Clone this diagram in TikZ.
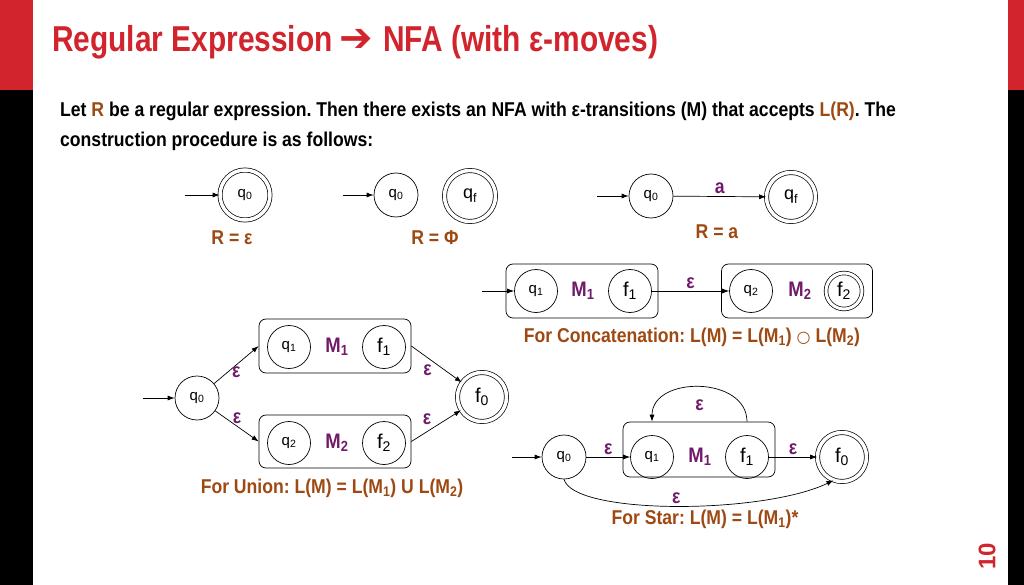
\documentclass[tikz,border=0pt]{standalone}
\usepackage{fontspec}
\setmainfont[FakeStretch=0.83]{Liberation Sans}
\newfontfamily\bodyfont[FakeStretch=0.88]{Liberation Sans}
\newfontfamily\plainfont{Liberation Sans}
\newfontfamily\symfont{DejaVu Sans}
\usetikzlibrary{arrows.meta, positioning}
\frenchspacing

\definecolor{slidered}{RGB}{209,36,44}
\definecolor{capbrown}{RGB}{158,72,18}
\definecolor{labpurple}{RGB}{112,26,108}

\begin{document}
\begin{tikzpicture}[
    x=1pt, y=-1pt,
    >={Latex[length=7pt, width=5pt]},
    state/.style={draw, circle, minimum size=44pt, inner sep=0pt, line width=0.7pt,
                  font=\plainfont\fontsize{15}{15}\selectfont},
    accept/.style={state, double, double distance=3.5pt, minimum size=49pt},
    machine/.style={draw, rounded corners=7pt, line width=0.7pt, minimum width=152pt, minimum height=54pt},
    mlabel/.style={font=\bodyfont\bfseries\fontsize{21}{21}\selectfont, text=labpurple, inner sep=0pt},
    elabel/.style={font=\bodyfont\bfseries\fontsize{20}{20}\selectfont, text=labpurple, inner sep=2pt},
    caption/.style={font=\bodyfont\bfseries\fontsize{20}{20}\selectfont, text=capbrown},
    trans/.style={->, line width=0.7pt},
]
    \useasboundingbox (0,0) rectangle (1024,585);

    % Side bars
    \fill[slidered] (0,0) rectangle (33,90);
    \fill[black] (0,90) rectangle (33,585);
    \fill[slidered] (1008,0) rectangle (1024,90);
    \fill[black] (1008,90) rectangle (1024,585);

    % Heading and text
    \node[anchor=base west, inner sep=0pt, text=slidered, font=\bfseries\fontsize{36}{36}\selectfont] (title) at (52,52)
        {Regular Expression\hspace{7pt}{\symfont\bfseries\fontsize{40}{36}\selectfont ➔}\hspace{10pt}NFA (with ε-moves)};
    \node[anchor=base west, inner sep=0pt, font=\bodyfont\bfseries\fontsize{20}{20}\selectfont] (intro1) at (60,117)
        {Let \textcolor{capbrown}{R} be a regular expression. Then there exists an NFA with ε-transitions (M) that accepts \textcolor{capbrown}{L(R)}. The};
    \node[anchor=base west, inner sep=0pt, font=\bodyfont\bfseries\fontsize{20}{20}\selectfont] (intro2) at (60,147)
        {construction procedure is as follows:};
    \node[rotate=90, text=slidered, font=\plainfont\bfseries\fontsize{24}{24}\selectfont] (pageno) at (987,556) {10};

    % R = epsilon
    \node[accept, minimum size=50pt] (e0) at (245,195) {q\textsubscript{0}};
    \coordinate (e0in) at (185,195);
    \node[caption] (ecap) at (232,238) {R = ε};

    % R = Phi
    \node[state] (p0) at (396,195) {q\textsubscript{0}};
    \node[accept, minimum size=51pt, font=\plainfont\fontsize{18}{18}\selectfont] (pf) at (470,196) {q\textsubscript{f}};
    \coordinate (p0in) at (343,195);
    \node[caption] (pcap) at (435,238) {R = Φ};

    % R = a
    \node[state] (a0) at (651,196) {q\textsubscript{0}};
    \node[accept, font=\plainfont\fontsize{18}{18}\selectfont] (af) at (791,197) {q\textsubscript{f}};
    \coordinate (a0in) at (597,196);
    \node[caption] (acap) at (717,232) {R = a};

    % Concatenation
    \node[machine] (C1) at (582,291) {};
    \node[machine, minimum width=151pt] (C2) at (797,291) {};
    \node[state, minimum size=43pt] (cq1) at (536,291) {q\textsubscript{1}};
    \node[mlabel] (cm1) at (583,291) {M\textsubscript{1}};
    \node[state, minimum size=43pt, font=\plainfont\fontsize{20}{20}\selectfont] (cf1) at (630,291) {f\textsubscript{1}};
    \node[state, minimum size=43pt] (cq2) at (751,291) {q\textsubscript{2}};
    \node[mlabel] (cm2) at (800,291) {M\textsubscript{2}};
    \node[accept, minimum size=36pt, double distance=3pt, font=\plainfont\fontsize{20}{20}\selectfont] (cf2) at (844,291) {f\textsubscript{2}};
    \coordinate (cin) at (482,291);
    \node[caption] (ccap) at (692,337) {For Concatenation: L(M) = L(M\textsubscript{1}) {\symfont\mdseries\fontsize{16}{16}\selectfont ○} L(M\textsubscript{2})};

    % Union
    \node[state] (u0) at (197,398) {q\textsubscript{0}};
    \node[machine] (U1) at (335,346) {};
    \node[machine, minimum height=53pt] (U2) at (335,441.5) {};
    \node[state, minimum size=43pt] (uq1) at (289,347) {q\textsubscript{1}};
    \node[mlabel] (um1) at (337,347) {M\textsubscript{1}};
    \node[state, minimum size=43pt, font=\plainfont\fontsize{20}{20}\selectfont] (uf1) at (384,347) {f\textsubscript{1}};
    \node[state, minimum size=43pt] (uq2) at (289,443) {q\textsubscript{2}};
    \node[mlabel] (um2) at (337,443) {M\textsubscript{2}};
    \node[state, minimum size=43pt, font=\plainfont\fontsize{20}{20}\selectfont] (uf2) at (384,443) {f\textsubscript{2}};
    \node[accept, font=\plainfont\fontsize{20}{20}\selectfont] (uf0) at (482,397) {f\textsubscript{0}};
    \coordinate (uin) at (143,398);
    \node[caption] (ucap) at (332,488) {For Union: L(M) = L(M\textsubscript{1}) U L(M\textsubscript{2})};

    % Star
    \node[state] (s0) at (564,457) {q\textsubscript{0}};
    \node[machine, minimum height=55pt] (S1) at (699,449.5) {};
    \node[state, minimum size=43pt] (sq1) at (652,457) {q\textsubscript{1}};
    \node[mlabel] (sm1) at (700,457) {M\textsubscript{1}};
    \node[state, minimum size=43pt, font=\plainfont\fontsize{20}{20}\selectfont] (sf1) at (747,457) {f\textsubscript{1}};
    \node[accept, font=\plainfont\fontsize{20}{20}\selectfont] (sf0) at (842,457) {f\textsubscript{0}};
    \coordinate (sin) at (512,457);
    \node[caption] (scap) at (705,519) {For Star: L(M) = L(M\textsubscript{1})*};

    % Connections
    \draw[trans] (e0in) -- (e0);
    \draw[trans] (p0in) -- (p0);
    \draw[trans] (a0in) -- (a0);
    \draw[trans] (a0) -- node[elabel, above] (la) {a} (af);

    \draw[trans] (cin) -- (cq1);
    \draw[trans] (cf1) -- node[elabel, above] (lc) {ε} (cq2);

    \draw[trans] (uin) -- (u0);
    \draw[trans] (u0) -- node[elabel, below, pos=0.5] (lu1) {ε} (U1.west);
    \draw[trans] (u0) -- node[elabel, above, pos=0.5] (lu2) {ε} (U2.west);
    \draw[trans] (U1.east) -- node[elabel, below left, pos=0.45] (lu3) {ε} (uf0);
    \draw[trans] (U2.east) -- node[elabel, above left, pos=0.45] (lu4) {ε} (uf0);

    \draw[trans] (sin) -- (s0);
    \draw[trans] (s0) -- node[elabel, above] (ls1) {ε} (sq1);
    \draw[trans] (sf1) -- node[elabel, above] (ls2) {ε} (sf0);
    \draw[trans] (S1.north -| sf1) .. controls +(0,-46) and +(0,-46) .. node[elabel, below=10pt] (ls3) {ε} (S1.north -| sq1);
    \draw[trans] (s0.south) .. controls +(10,36) and +(-70,34) .. node[elabel, above] (ls4) {ε} (sf0.250);

\end{tikzpicture}
\end{document}
